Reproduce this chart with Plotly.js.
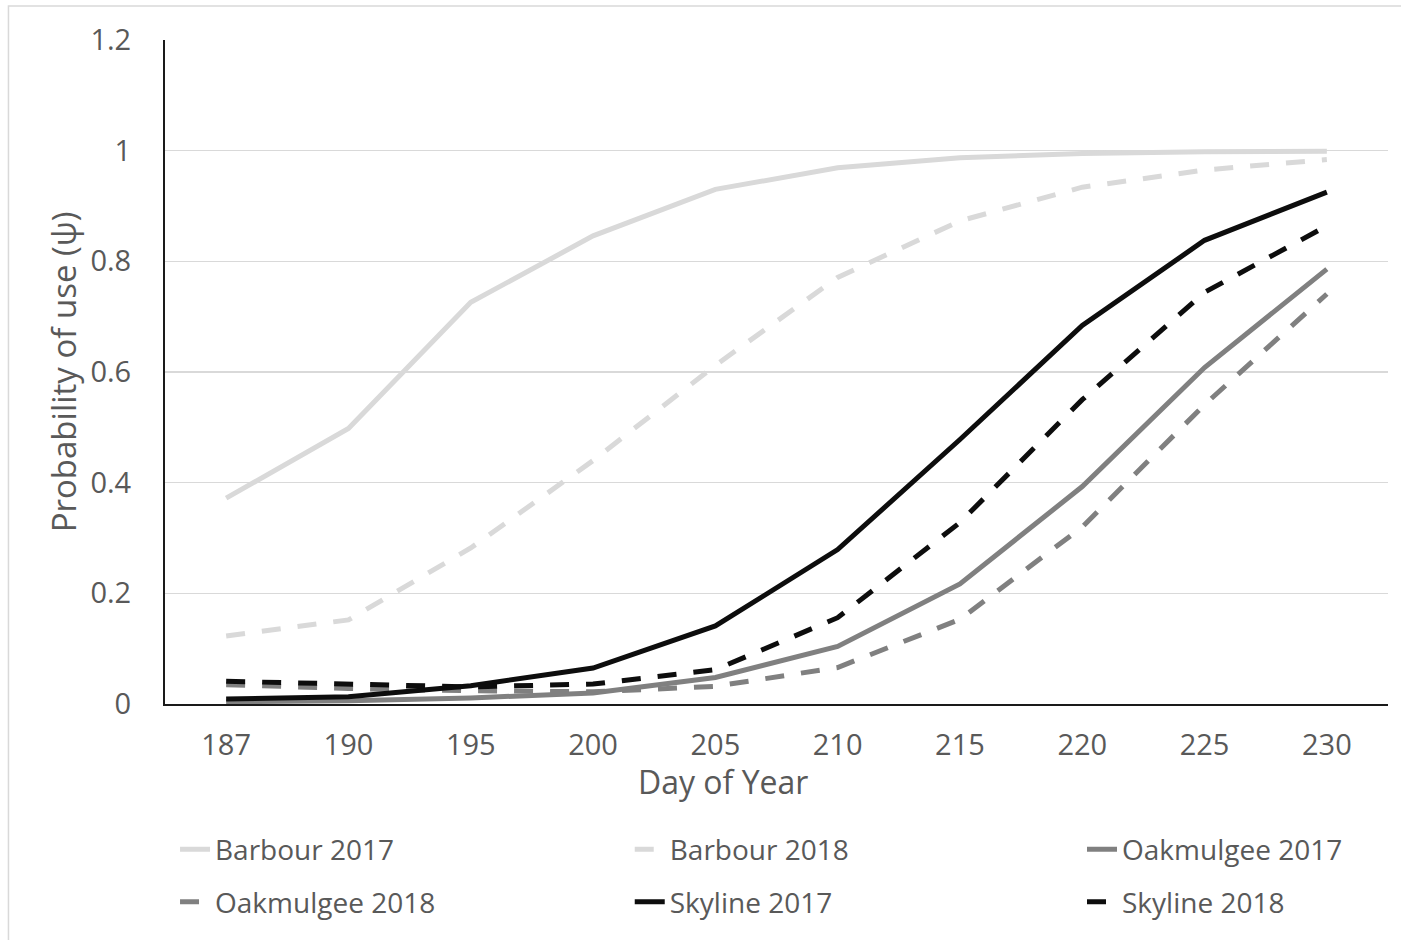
<!DOCTYPE html>
<html>
<head>
<meta charset="utf-8">
<script src="https://cdn.plot.ly/plotly-3.0.1.min.js"></script>
<style>
  html, body { margin: 0; padding: 0; background: #ffffff; }
  #chart { width: 1401px; height: 940px; }
</style>
</head>
<body>
<div id="chart"></div>
<script>
// Categories (day of year)
const days = ["187", "190", "195", "200", "205", "210", "215", "220", "225", "230"];

// Series values (probability of use, psi)
const barbour2017   = [0.372, 0.498, 0.726, 0.846, 0.930, 0.969, 0.987, 0.995, 0.998, 0.999];
const barbour2018   = [0.123, 0.152, 0.282, 0.440, 0.612, 0.771, 0.873, 0.934, 0.965, 0.984];
const oakmulgee2017 = [0.004, 0.006, 0.011, 0.020, 0.048, 0.104, 0.217, 0.393, 0.608, 0.786];
const oakmulgee2018 = [0.035, 0.028, 0.024, 0.022, 0.032, 0.066, 0.153, 0.320, 0.541, 0.741];
const skyline2017   = [0.009, 0.013, 0.033, 0.065, 0.141, 0.279, 0.478, 0.684, 0.838, 0.925];
const skyline2018   = [0.041, 0.035, 0.031, 0.036, 0.062, 0.156, 0.328, 0.550, 0.744, 0.864];

const seriesNames = ["Barbour 2017", "Barbour 2018", "Oakmulgee 2017", "Oakmulgee 2018", "Skyline 2017", "Skyline 2018"];
const xTitle = "Day of Year";
const yTitle = "Probability of use (ψ)";

const LIGHT = "#d9d9d9", MID = "#808080", DARK = "#0d0d0d";
const DASH = "19px,17px";
const FONT = "'Open Sans', 'Noto Sans', sans-serif";
const TXT = "#595959";

function mk(name, y, color, dash, legend) {
  return {
    type: "scatter", mode: "lines", name: name, x: days, y: y,
    line: { color: color, width: 5, dash: dash },
    legend: legend, legendgroup: name, hoverinfo: "x+y+name"
  };
}

// Legend laid out in three columns of two rows, like the reference
const traces = [
  mk(seriesNames[0], barbour2017, LIGHT, "solid", "legend"),
  mk(seriesNames[1], barbour2018, LIGHT, DASH, "legend2"),
  mk(seriesNames[2], oakmulgee2017, MID, "solid", "legend3"),
  mk(seriesNames[3], oakmulgee2018, MID, DASH, "legend"),
  mk(seriesNames[4], skyline2017, DARK, "solid", "legend2"),
  mk(seriesNames[5], skyline2018, DARK, DASH, "legend3")
];

const legendCommon = {
  orientation: "v", xanchor: "left", yanchor: "middle", y: -0.2585,
  tracegroupgap: 13,
  font: { family: FONT, size: 28, color: TXT },
  bgcolor: "rgba(0,0,0,0)", borderwidth: 0, itemclick: false, itemdoubleclick: false
};

const layout = {
  width: 1401, height: 940,
  margin: { l: 165, r: 13, t: 40, b: 236 },
  paper_bgcolor: "#ffffff", plot_bgcolor: "#ffffff",
  font: { family: FONT, color: TXT },
  showlegend: true,
  legend: Object.assign({}, legendCommon, { x: 0.0082 }),
  legend2: Object.assign({}, legendCommon, { x: 0.380 }),
  legend3: Object.assign({}, legendCommon, { x: 0.7498 }),
  xaxis: {
    type: "category", range: [-0.5, 9.5],
    showgrid: false, zeroline: false,
    showline: true, linecolor: "#1a1a1a", linewidth: 2,
    ticks: "", ticklabelstandoff: 14,
    tickfont: { family: FONT, size: 29, color: TXT }
  },
  yaxis: {
    range: [0, 1.2], dtick: 0.2, tick0: 0,
    showgrid: true, gridcolor: LIGHT, gridwidth: 1.5,
    zeroline: false,
    showline: true, linecolor: "#1a1a1a", linewidth: 2,
    ticks: "", ticklabelstandoff: 26,
    tickformat: "~g",
    tickfont: { family: FONT, size: 29, color: TXT },
    title: { text: yTitle, font: { family: FONT, size: 33, color: TXT }, standoff: 4 }
  },
  annotations: [
    { text: xTitle, xref: "paper", yref: "paper", x: 0.456, y: -0.1168,
      xanchor: "center", yanchor: "middle", showarrow: false,
      font: { family: FONT, size: 32, color: TXT } }
  ],
  shapes: [
    { type: "rect", xref: "paper", yref: "paper",
      x0: -0.128, x1: 1.06, y0: -0.42, y1: 1.0512,
      line: { color: LIGHT, width: 1.5 }, fillcolor: "rgba(0,0,0,0)", layer: "below" }
  ]
};

Plotly.newPlot("chart", traces, layout, { displayModeBar: false, staticPlot: true });
</script>
</body>
</html>
